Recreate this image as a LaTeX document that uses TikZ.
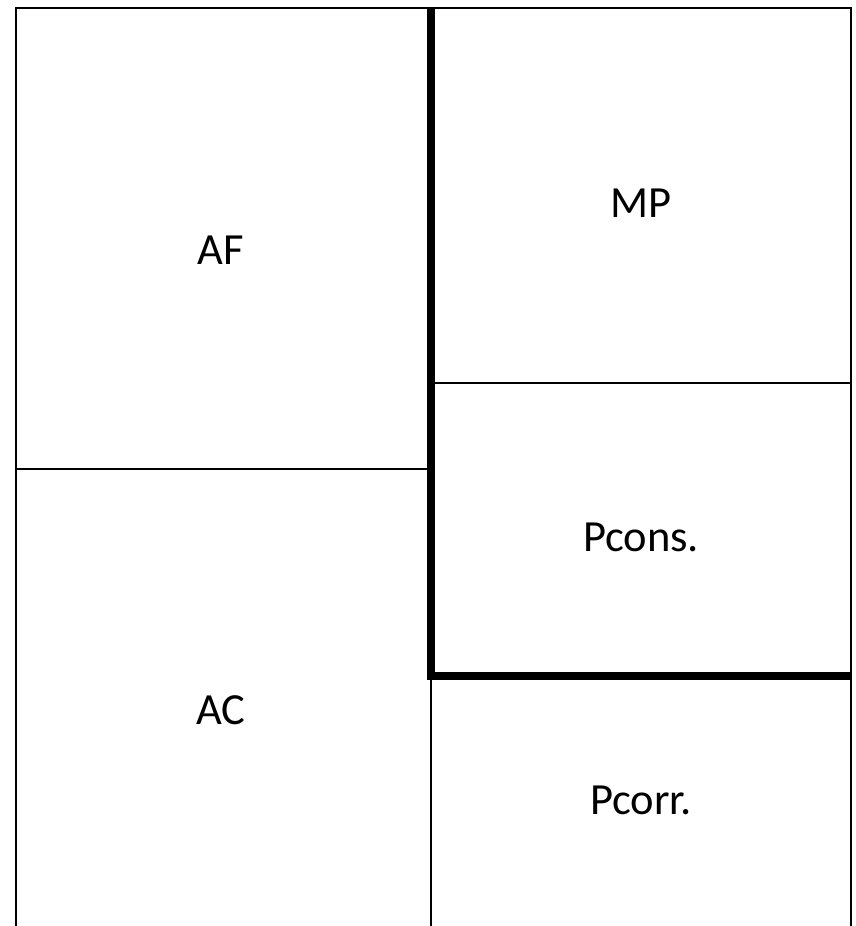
\documentclass[tikz,border=0pt]{standalone}
\usepackage{fontspec}
\setmainfont{Carlito}
\tikzset{
  thin line/.style={line width=2.8pt, black},
  thick line/.style={line width=7.5pt, black},
  lbl/.style={font=\fontsize{44.5}{50}\selectfont, inner sep=0pt}
}
\begin{document}
\begin{tikzpicture}[x=1pt,y=-1pt]
\useasboundingbox (0,0) rectangle (855,926);
\coordinate (tl) at (16,8);
\coordinate (tr) at (851,8);
\coordinate (bl) at (16,926);
\coordinate (br) at (851,926);
\coordinate (tm) at (431,8);
\coordinate (lm) at (16,469);
\coordinate (lmr) at (431,469);
\coordinate (rm) at (431,383);
\coordinate (rmr) at (851,383);
\coordinate (th) at (427.25,676);
\coordinate (thr) at (851,676);
\coordinate (tb) at (431,679.75);
\coordinate (bm) at (431,926);
\draw[thin line] (bl) -- (tl) -- (tr) -- (br);
\draw[thin line] (lm) -- (lmr);
\draw[thin line] (rm) -- (rmr);
\draw[thin line] (tb) -- (bm);
\draw[thick line] (tm) -- (tb);
\draw[thick line] (th) -- (thr);
\node[lbl] (af) at (221,250) {AF};
\node[lbl] (mp) at (641,203) {MP};
\node[lbl] (pcons) at (641,537) {Pcons.};
\node[lbl] (ac) at (221,710) {AC};
\node[lbl] (pcorr) at (641,800) {Pcorr.};
\end{tikzpicture}
\end{document}
